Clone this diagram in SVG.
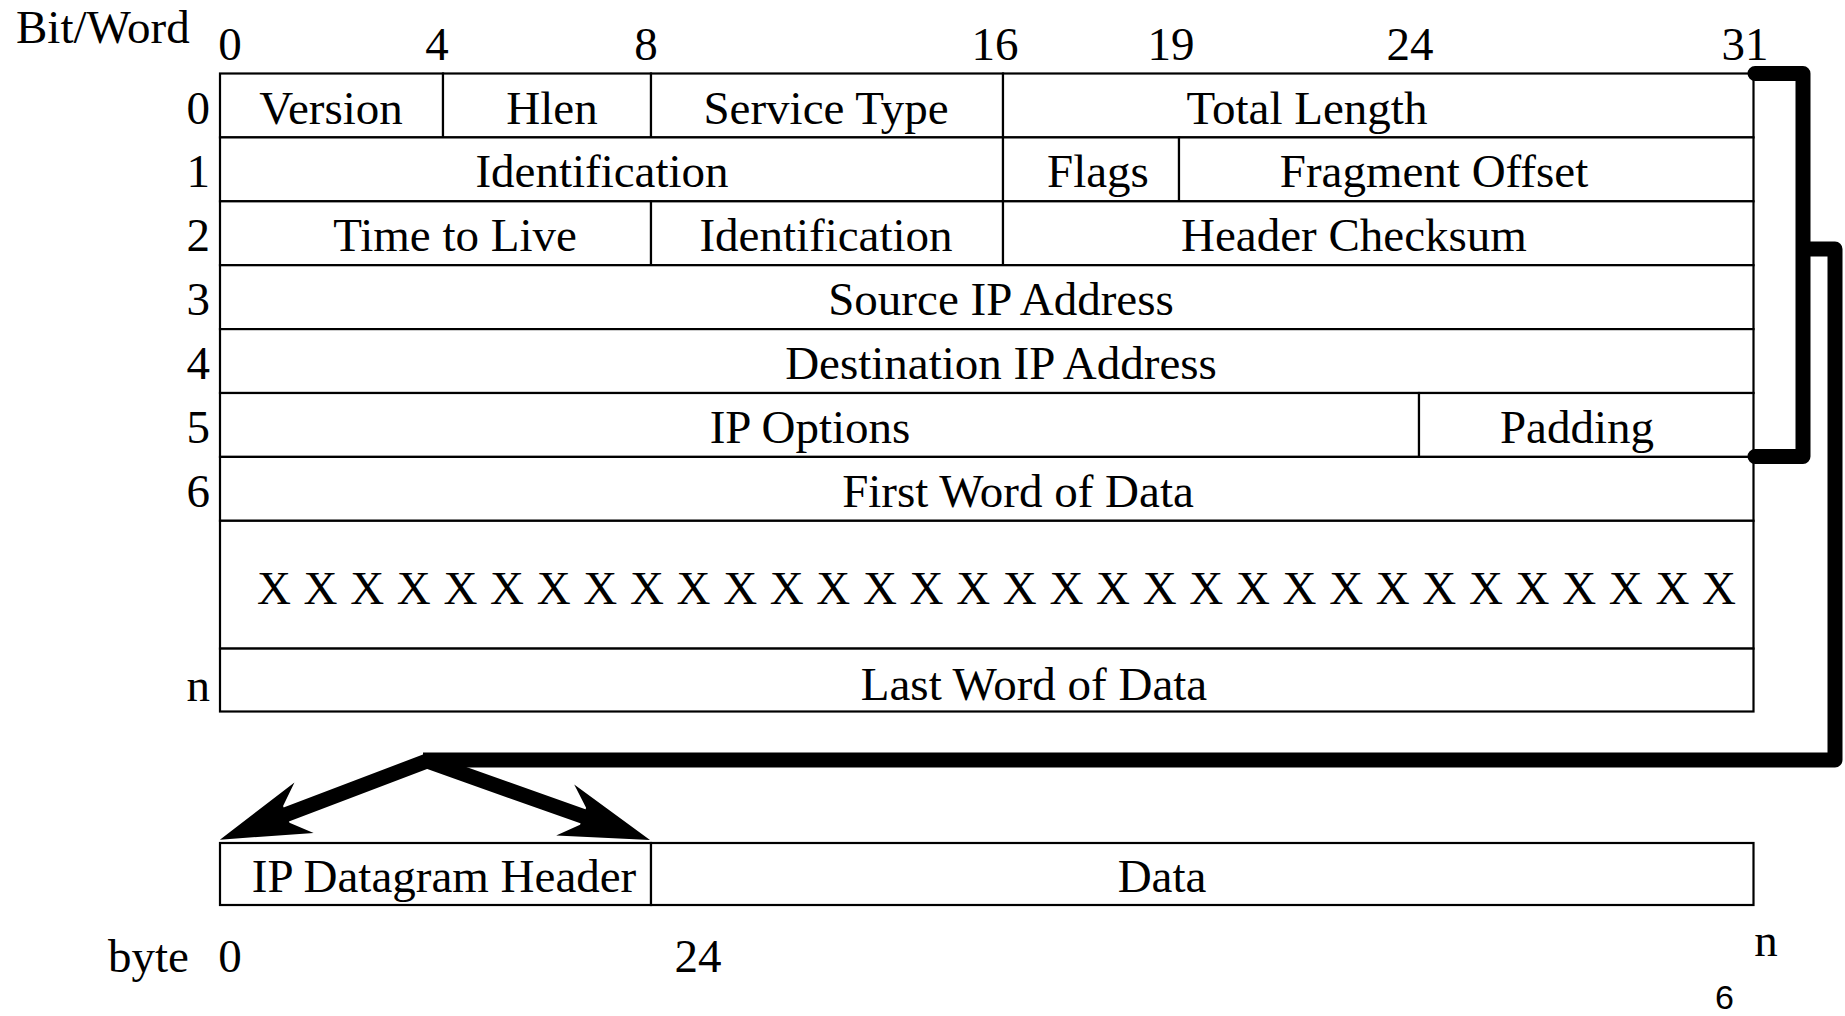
<svg xmlns="http://www.w3.org/2000/svg" width="1845" height="1016" viewBox="0 0 1845 1016">
  <style>
    .cell { fill: #fff; stroke: #000; stroke-width: 2.2; }
    .t { font-family: "Liberation Serif", "Times New Roman", serif; font-size: 47px; fill: #000; }
    .c { text-anchor: middle; }
    .r { text-anchor: end; }
    .thick { fill: none; stroke: #000; stroke-width: 15; }
  </style>
  <defs>
    <!-- notched arrowhead; origin sits on the shaft end, tip 66 units ahead -->
    <marker id="head" markerUnits="userSpaceOnUse" orient="auto-start-reverse" markerWidth="200" markerHeight="200" refX="0" refY="0" overflow="visible">
      <path d="M66,0 L-24,-27 L-5,-9 L-5,9 L-24,27 Z" fill="#000"/>
    </marker>
  </defs>
  <rect width="1845" height="1016" fill="#fff"/>

  <!-- axis labels -->
  <g id="axis-top">
    <text class="t" x="16" y="43">Bit/Word</text>
    <text class="t c" x="230" y="60">0</text>
    <text class="t c" x="437" y="60">4</text>
    <text class="t c" x="646" y="60">8</text>
    <text class="t c" x="995" y="60">16</text>
    <text class="t c" x="1171" y="60">19</text>
    <text class="t c" x="1410" y="60">24</text>
    <text class="t c" x="1745" y="60">31</text>
  </g>
  <g id="word-numbers">
    <text class="t r" x="210" y="123.5">0</text>
    <text class="t r" x="210" y="187.4">1</text>
    <text class="t r" x="210" y="251.3">2</text>
    <text class="t r" x="210" y="315.2">3</text>
    <text class="t r" x="210" y="379.1">4</text>
    <text class="t r" x="210" y="443">5</text>
    <text class="t r" x="210" y="506.9">6</text>
    <text class="t r" x="210" y="701">n</text>
  </g>

  <!-- IP header words -->
  <g id="f-version"><rect class="cell" x="220" y="73.5" width="223" height="63.9"/><text class="t c" x="331" y="123.5">Version</text></g>
  <g id="f-hlen"><rect class="cell" x="443" y="73.5" width="208" height="63.9"/><text class="t c" x="552" y="123.5">Hlen</text></g>
  <g id="f-service"><rect class="cell" x="651" y="73.5" width="352" height="63.9"/><text class="t c" x="826" y="123.5">Service Type</text></g>
  <g id="f-total-length"><rect class="cell" x="1003" y="73.5" width="750.5" height="63.9"/><text class="t c" x="1307" y="123.5">Total Length</text></g>

  <g id="f-identification"><rect class="cell" x="220" y="137.4" width="783" height="63.9"/><text class="t c" x="602" y="187.4">Identification</text></g>
  <g id="f-flags"><rect class="cell" x="1003" y="137.4" width="176" height="63.9"/><text class="t c" x="1098" y="187.4">Flags</text></g>
  <g id="f-fragment"><rect class="cell" x="1179" y="137.4" width="574.5" height="63.9"/><text class="t c" x="1434" y="187.4">Fragment Offset</text></g>

  <g id="f-ttl"><rect class="cell" x="220" y="201.3" width="431" height="63.9"/><text class="t c" x="455" y="251.3">Time to Live</text></g>
  <g id="f-identification-2"><rect class="cell" x="651" y="201.3" width="352" height="63.9"/><text class="t c" x="826" y="251.3">Identification</text></g>
  <g id="f-checksum"><rect class="cell" x="1003" y="201.3" width="750.5" height="63.9"/><text class="t c" x="1354" y="251.3">Header Checksum</text></g>

  <g id="f-source"><rect class="cell" x="220" y="265.2" width="1533.5" height="63.9"/><text class="t c" x="1001" y="315.2">Source IP Address</text></g>
  <g id="f-destination"><rect class="cell" x="220" y="329.1" width="1533.5" height="63.9"/><text class="t c" x="1001" y="379.1">Destination IP Address</text></g>

  <g id="f-options"><rect class="cell" x="220" y="393" width="1199" height="63.9"/><text class="t c" x="810" y="443">IP Options</text></g>
  <g id="f-padding"><rect class="cell" x="1419" y="393" width="334.5" height="63.9"/><text class="t c" x="1577" y="443">Padding</text></g>

  <g id="f-first-data"><rect class="cell" x="220" y="456.9" width="1533.5" height="63.9"/><text class="t c" x="1018" y="506.9">First Word of Data</text></g>
  <g id="f-data-bits"><rect class="cell" x="220" y="520.8" width="1533.5" height="127.8"/><text class="t" x="257" y="604" textLength="1479" lengthAdjust="spacing">X X X X X X X X X X X X X X X X X X X X X X X X X X X X X X X X</text></g>
  <g id="f-last-data"><rect class="cell" x="220" y="648.6" width="1533.5" height="62.9"/><text class="t c" x="1034" y="700">Last Word of Data</text></g>

  <!-- datagram layout -->
  <g id="d-header"><rect class="cell" x="220" y="843" width="431" height="62"/><text class="t c" x="444" y="892">IP Datagram Header</text></g>
  <g id="d-data"><rect class="cell" x="651" y="843" width="1102.5" height="62"/><text class="t c" x="1162" y="892">Data</text></g>

  <g id="axis-bottom">
    <text class="t" x="108" y="972">byte</text>
    <text class="t c" x="230" y="972">0</text>
    <text class="t c" x="698" y="972">24</text>
    <text class="t c" x="1766" y="956">n</text>
    <text x="1724.5" y="1009" text-anchor="middle" font-family="'Liberation Sans', Arial, sans-serif" font-size="34">6</text>
  </g>

  <!-- connectors -->
  <g id="connectors">
    <path class="thick" d="M1755,73.5 H1803 V456.5 H1755" stroke-linecap="round" stroke-linejoin="round"/>
    <path class="thick" d="M1803,249 H1835 V760 H423" stroke-linejoin="round"/>
    <path class="thick" d="M281.6,816.2 L427,761 L587.8,818" stroke-linejoin="miter" marker-start="url(#head)" marker-end="url(#head)"/>
  </g>
</svg>
